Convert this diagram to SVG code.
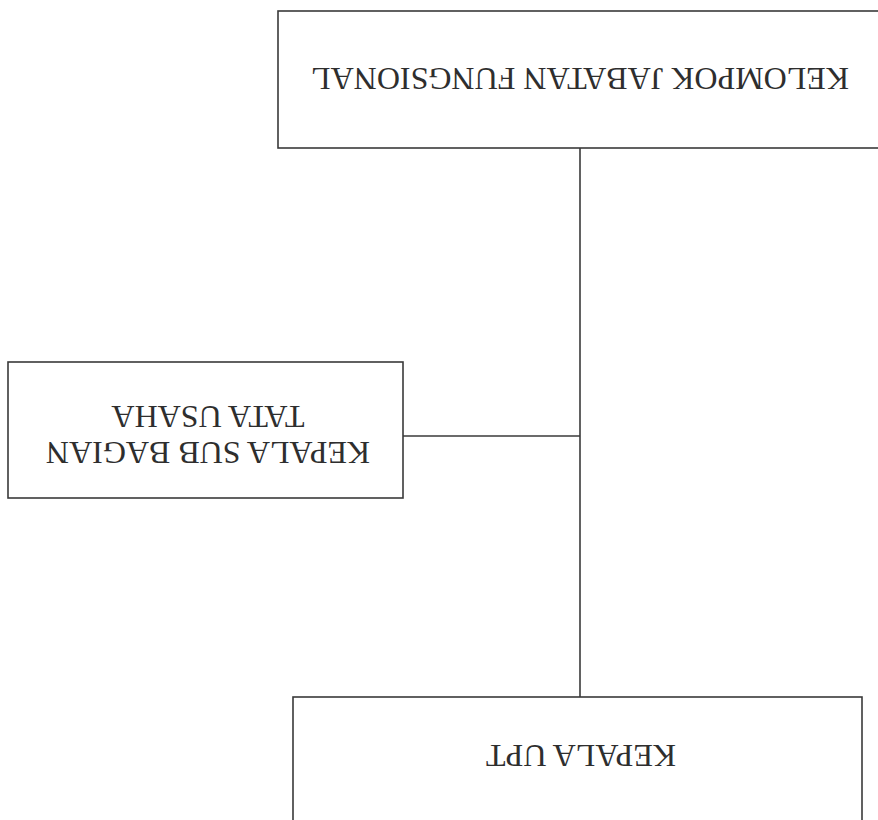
<svg xmlns="http://www.w3.org/2000/svg" width="878" height="820" viewBox="0 0 878 820">
<style>
.box{fill:#fff;stroke:#3a3a3a;stroke-width:1.6}
.lbl{font-family:"Liberation Serif","Times New Roman",serif;font-size:32px;fill:#2e2e2e;text-anchor:middle}
.conn{stroke:#3a3a3a;stroke-width:1.6;fill:none}
</style>
<rect width="878" height="820" fill="#fff"/>
<g id="connectors">
<line class="conn" x1="580" y1="148" x2="580" y2="697"/>
<line class="conn" x1="403" y1="436" x2="580" y2="436"/>
</g>
<g id="node-kelompok">
<rect class="box" x="278" y="11" width="610" height="137"/>
<text class="lbl" x="580" y="88.5" transform="rotate(180 580 78)">KELOMPOK JABATAN FUNGSIONAL</text>
</g>
<g id="node-kasubag">
<rect class="box" x="8" y="362" width="395" height="136"/>
<g transform="rotate(180 208 434)">
<text class="lbl" x="208" y="426.5">KEPALA SUB BAGIAN</text>
<text class="lbl" x="208" y="462.5">TATA USAHA</text>
</g>
</g>
<g id="node-kepala-upt">
<rect class="box" x="293" y="697" width="569" height="140"/>
<text class="lbl" x="581" y="765.5" transform="rotate(180 581 755)">KEPALA UPT</text>
</g>
</svg>
